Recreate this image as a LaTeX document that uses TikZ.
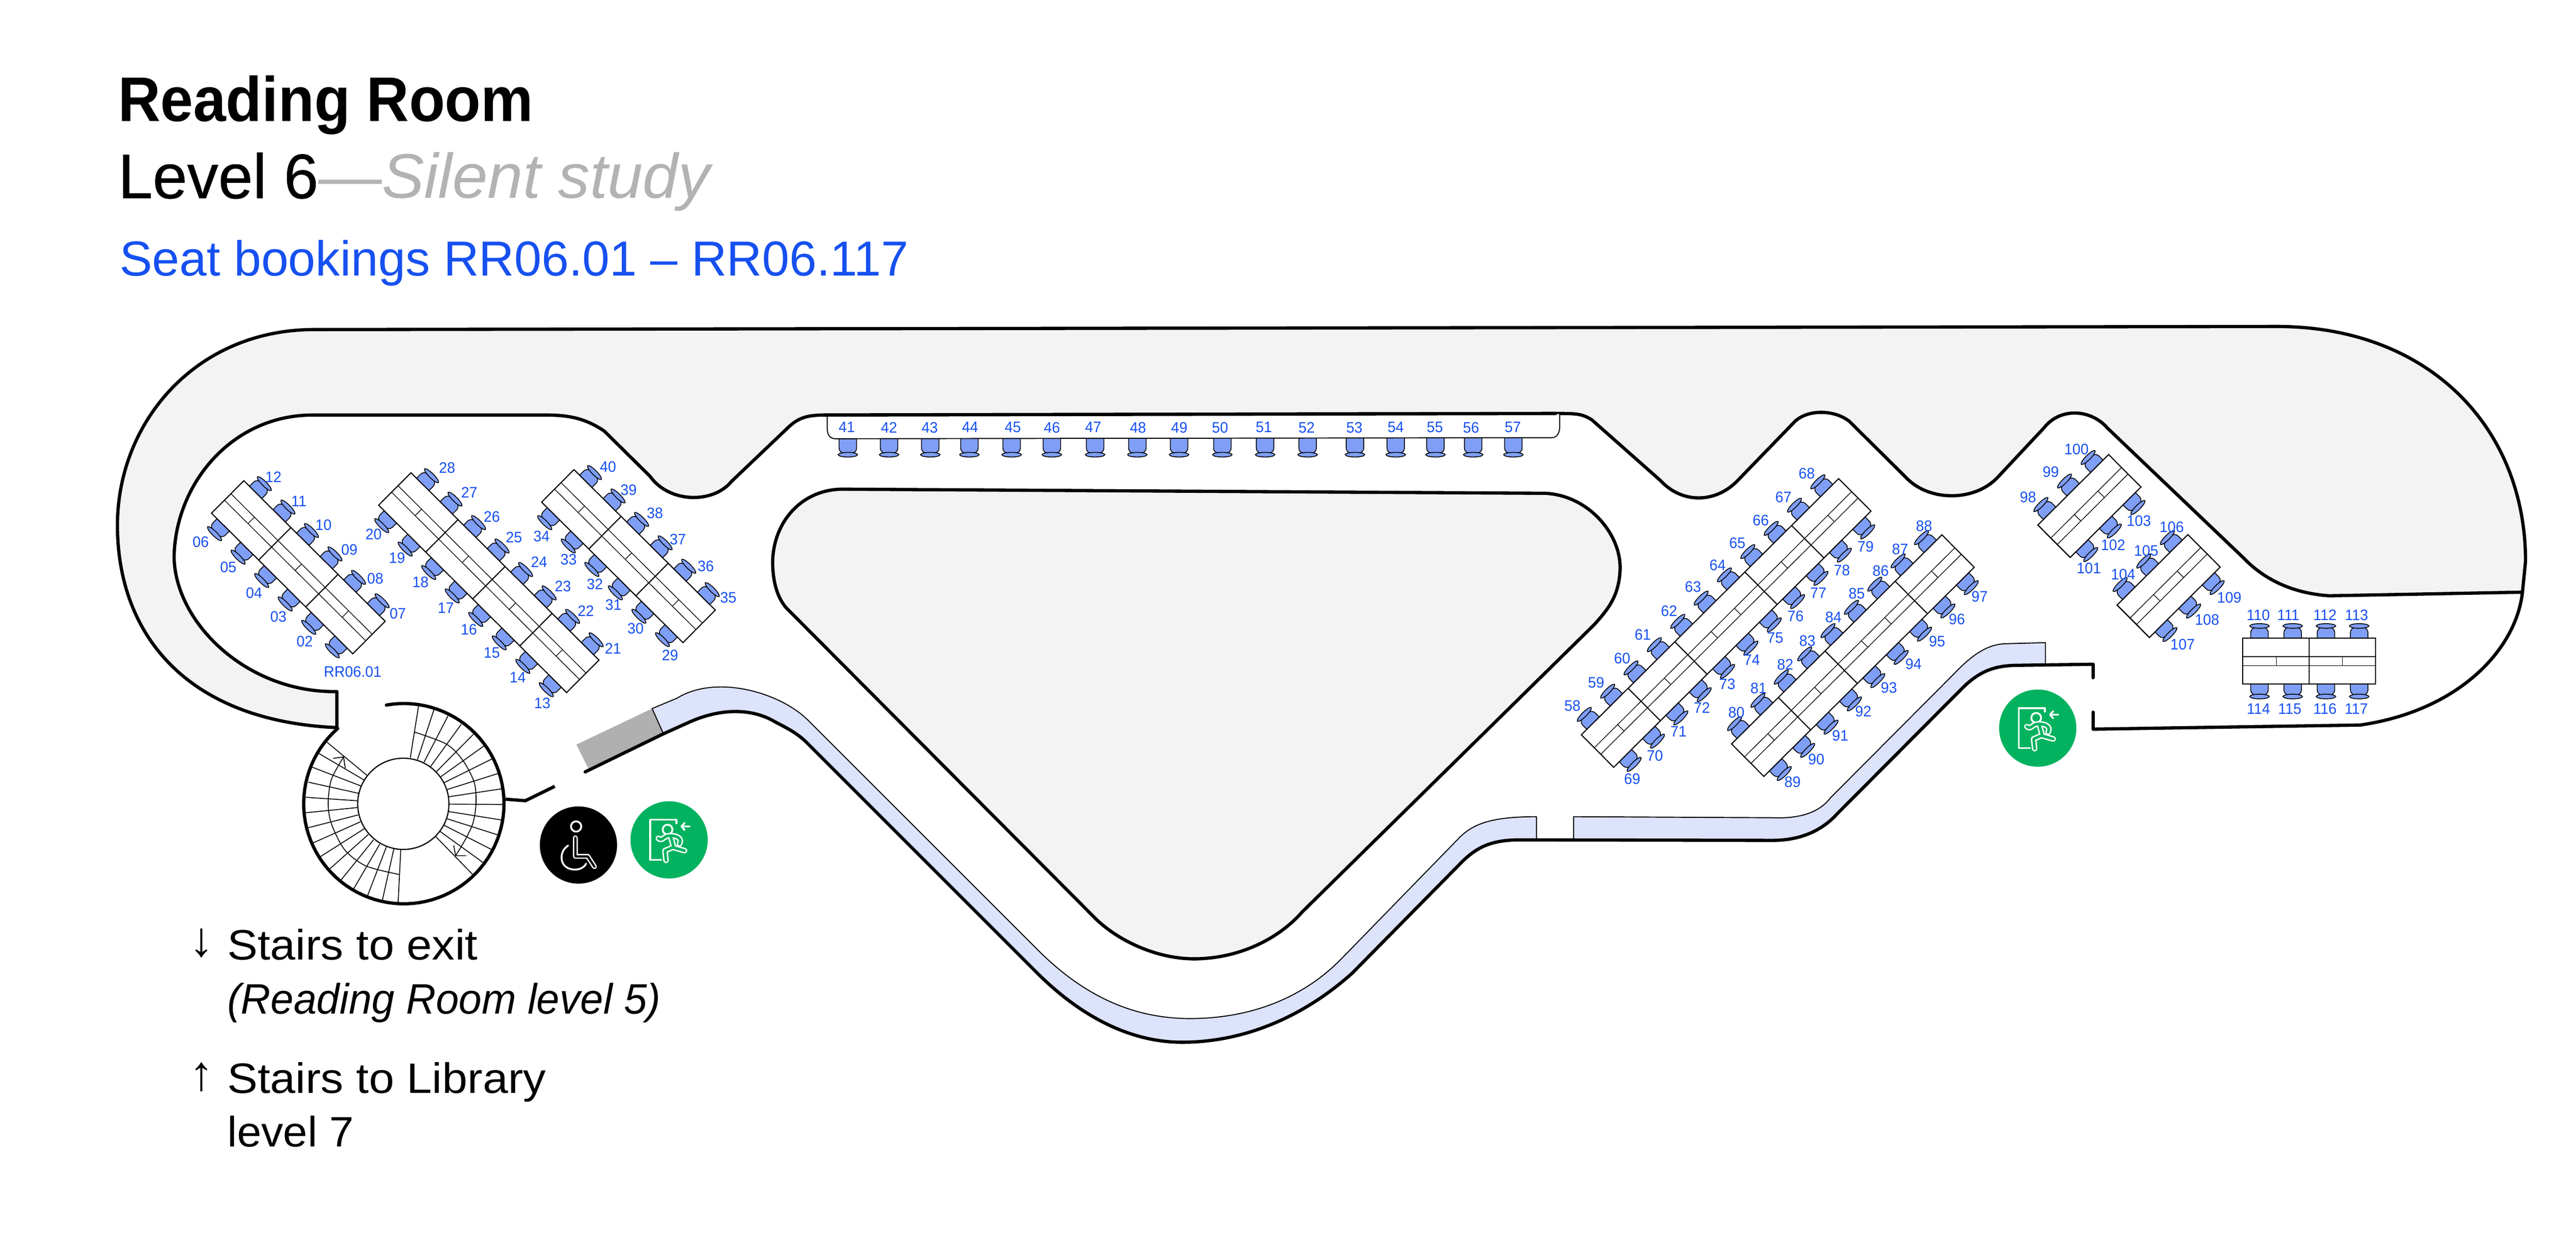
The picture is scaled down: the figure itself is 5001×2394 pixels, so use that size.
\documentclass[tikz,border=0pt]{standalone}
\usepackage{fontspec}
\setmainfont{Liberation Sans}
\newfontfamily\fTitle[FakeStretch=0.933]{Liberation Sans}
\newfontfamily\fLevel[FakeStretch=0.985,FakeBold=0.5]{Liberation Sans}
\newfontfamily\fSilent[FakeStretch=1.006]{Liberation Sans}
\newfontfamily\fSeat[FakeStretch=0.995]{Liberation Sans}
\newfontfamily\fNote[FakeStretch=1.07]{Liberation Sans}
\newfontfamily\fNoteI[FakeStretch=0.97]{Liberation Sans}
\newfontfamily\fNoteL[FakeStretch=1.03]{Liberation Sans}
\newfontfamily\fNum[FakeStretch=0.96]{Liberation Sans}
\definecolor{roomgray}{HTML}{F3F3F3}
\definecolor{ramp}{HTML}{B0B0B0}
\definecolor{walk}{HTML}{DCE3FB}
\definecolor{chairblue}{HTML}{7F9EF5}
\definecolor{txtblue}{HTML}{1650F0}
\definecolor{silent}{HTML}{B3B3B3}
\definecolor{exitgreen}{HTML}{02B25F}
\tikzset{
  wall/.style={line width=3.6pt,line join=round,line cap=round},
  thinwall/.style={line width=1.1pt,line join=round},
  tread/.style={line width=.95pt},
  desk/.style={line width=1.2pt,line join=miter},
  deskthin/.style={line width=.75pt},
  chair/.style={draw=black,fill=chairblue,line width=.9pt},
  num/.style={font=\fNum\fontsize{16.8}{16.8}\selectfont,text=txtblue,inner sep=0pt,anchor=center},
  head/.style={anchor=base west,inner sep=0pt},
  note/.style={anchor=base west,inner sep=0pt,font=\fNote\fontsize{47}{47}\selectfont},
  iconline/.style={draw=white,line width=2pt,line cap=round,line join=round},
}
\newcommand\seatat[3]{%
  \pgfmathsetmacro\yS{#2-#3*8}%
  \pgfmathsetmacro\yA{#2+#3*21}%
  \pgfmathsetmacro\yC{#2+#3*24}%
  \pgfmathsetmacro\yU{#2+#3*30}%
  \pgfmathsetmacro\yD{#2+#3*18}%
  \draw[chair,rounded corners=5.5pt] (#1-17,\yS) -- (#1-17,\yA) -- (#1+17,\yA) -- (#1+17,\yS);
  \draw[chair] (#1-19,\yC) .. controls (#1-17,\yU) and (#1+17,\yU) .. (#1+19,\yC) .. controls (#1+17,\yD) and (#1-17,\yD) .. (#1-19,\yC) -- cycle;
}
% ox, oy, ax, ay, L, dividers, ticks, seats
\newcommand\deskgroup[8]{%
  \begin{scope}[shift={(#1,#2)},x={({(#3)*0.02cm},{-1*(#4)*0.02cm})},y={({-1*(#4)*0.02cm},{-1*(#3)*0.02cm})}]
    \foreach \s in {#8}{\seatat{\s}{0}{-1}\seatat{\s}{89}{1}}
    \draw[desk,fill=white] (0,0) -- (#5,0) -- (#5,89) -- (0,89) -- cycle;
    \draw[deskthin] (0,35.6) -- (#5,35.6) (0,53.4) -- (#5,53.4);
    \foreach \t in {#7}{\draw[deskthin] (\t,35.6) -- (\t,53.4);}
    \foreach \d in {#6}{\draw[desk] (\d,0) -- (\d,89);}
  \end{scope}
}
\newcommand\exiticon[3]{%
  \node[circle,fill=exitgreen,minimum size=3cm,inner sep=0pt] (#3) at (#1,#2) {};
  \begin{scope}[shift={(#1,#2)}]
    \draw[iconline] (14,-32) -- (14,-39) -- (-37,-39) -- (-37,39) -- (-15,39);
    \draw[iconline] (40,-26) -- (24,-26) (30,-33) -- (24,-26) -- (30,-19);
    \draw[iconline] (-3,-20) circle[radius=.19cm];
    \draw[draw=white,double=exitgreen,double distance=3pt,line width=1.6pt,line cap=round,line join=round]
      (-21,-3) .. controls (-13,4) and (-11,-8) .. (0,-8) .. controls (12,-9) and (27,-4) .. (20,8)
      (3,-7) -- (9,15) -- (30,21)
      (6,15) -- (-8,21) -- (-6,40);
  \end{scope}
}
\begin{document}
\begin{tikzpicture}[x=0.02cm,y=-0.02cm]
\useasboundingbox (0,0) rectangle (5001,2394);
\fill[white] (0,0) rectangle (5001,2394);

% headings
\node[head,font=\fTitle\bfseries\fontsize{69.7}{70}\selectfont] (title) at (229,236) {Reading Room};
\node[head,font=\fontsize{69.7}{70}\selectfont] (level) at (229,385) {{\fLevel Level 6}{\fSilent\color{silent}—\itshape Silent study}};
\node[head,font=\fSeat\fontsize{54.4}{55}\selectfont,text=txtblue] (seats) at (232,536) {Seat bookings RR06.01 – RR06.117};

% outer grey room band
\draw[wall,fill=roomgray]
  (654,1413) .. controls (360,1400) and (228,1230) .. (228,1020)
  .. controls (228,820) and (380,640) .. (610,640)
  -- (4420,634) .. controls (4715,634) and (4903,830) .. (4903,1090)
  -- (4897,1150) -- (4522,1157)
  .. controls (4450,1152) and (4395,1125) .. (4355,1083)
  -- (4091,831) .. controls (4060,795) and (4000,790) .. (3968,831)
  -- (3880,925) .. controls (3835,975) and (3745,975) .. (3700,927)
  -- (3590,818) .. controls (3560,795) and (3510,795) .. (3485,818)
  -- (3373,933.6) .. controls (3330,978) and (3265,978) .. (3224,933.6)
  -- (3090,815) .. controls (3070,803) and (3060,803) .. (3020,803)
  -- (1599,806) .. controls (1560,806) and (1545,815) .. (1525,835)
  -- (1420,935) .. controls (1385,978) and (1300,978) .. (1262,925)
  -- (1173,837) .. controls (1140,815) and (1110,806) .. (1061,806)
  -- (607,806) .. controls (450,806) and (340,940) .. (338,1082)
  .. controls (340,1210) and (480,1346) .. (654,1343) -- cycle;

% right lower wall
\draw[wall] (4897,1150) .. controls (4885,1260) and (4775,1380) .. (4582,1408)
  -- (4063.5,1416) -- (4063.5,1383);

% central block
\draw[wall,fill=roomgray]
  (1640,950) -- (3000,958)
  .. controls (3085,962) and (3150,1040) .. (3145,1110)
  .. controls (3142,1160) and (3120,1185) .. (3095,1213)
  -- (2528,1771) .. controls (2476,1830) and (2396,1862) .. (2318,1862)
  .. controls (2244,1862) and (2165,1825) .. (2120,1777)
  -- (1526,1180) .. controls (1505,1155) and (1500,1120) .. (1500,1090)
  .. controls (1502,1010) and (1560,948) .. (1640,950) -- cycle;

% ramp and walkway
\fill[ramp] (1119,1446) -- (1266,1376) -- (1288,1425) -- (1142,1492) -- cycle;
\fill[walk] (1266,1376) -- (1314,1356) .. controls (1340,1340) and (1370,1334) .. (1400,1334)
  .. controls (1460,1334) and (1530,1360) .. (1569,1399)
  -- (2015,1845) .. controls (2100,1930) and (2195,1978) .. (2310,1978)
  .. controls (2425,1978) and (2530,1940) .. (2608,1858)
  -- (2831,1629) .. controls (2860,1598) and (2900,1586) .. (2983,1586)
  -- (2983,1631) -- (2952,1631) .. controls (2900,1631) and (2870,1642) .. (2838,1674)
  -- (2625,1890) .. controls (2530,1975) and (2415,2024) .. (2295,2024)
  .. controls (2195,2024) and (2100,1975) .. (2015,1891)
  -- (1569,1445) .. controls (1550,1425) and (1530,1415) .. (1505,1402)
  .. controls (1460,1375) and (1400,1375) .. (1339,1402) -- (1288,1425) -- cycle;
\draw[thinwall] (1288,1425) -- (1266,1376) -- (1314,1356) .. controls (1340,1340) and (1370,1334) .. (1400,1334)
  .. controls (1460,1334) and (1530,1360) .. (1569,1399)
  -- (2015,1845) .. controls (2100,1930) and (2195,1978) .. (2310,1978)
  .. controls (2425,1978) and (2530,1940) .. (2608,1858)
  -- (2831,1629) .. controls (2860,1598) and (2900,1586) .. (2983,1586)
  -- (2983,1631);
\fill[walk] (3055,1631) -- (3055,1586) -- (3441,1588) .. controls (3490,1590) and (3530,1580) .. (3553,1550)
  -- (3792,1310) .. controls (3830,1270) and (3860,1250) .. (3897,1250) -- (3971,1248) -- (3971,1291)
  -- (3918,1292) .. controls (3870,1292) and (3840,1305) .. (3806,1340) -- (3567,1580)
  .. controls (3540,1610) and (3500,1632) .. (3441,1632) -- cycle;
\draw[thinwall] (3055,1631) -- (3055,1586) -- (3441,1588) .. controls (3490,1590) and (3530,1580) .. (3553,1550)
  -- (3792,1310) .. controls (3830,1270) and (3860,1250) .. (3897,1250) -- (3971,1248) -- (3971,1291);
\draw[wall] (1136,1499) -- (1288,1425) -- (1339,1402) .. controls (1400,1375) and (1460,1375) .. (1505,1402)
  .. controls (1530,1415) and (1550,1425) .. (1569,1445)
  -- (2015,1891) .. controls (2100,1975) and (2195,2024) .. (2295,2024)
  .. controls (2415,2024) and (2530,1975) .. (2625,1890)
  -- (2838,1674) .. controls (2870,1642) and (2900,1631) .. (2952,1631)
  -- (3441,1632) .. controls (3500,1632) and (3540,1610) .. (3567,1580)
  -- (3806,1340) .. controls (3840,1305) and (3870,1292) .. (3918,1292)
  -- (4063.5,1290) -- (4063.5,1316);

% stairs
\draw[wall] plot[domain=100:-228.7,samples=90] ({784+194.5*cos(\x)},{1560.7-194.5*sin(\x)});
\draw[wall,line cap=butt] (981.5,1552) -- (1020,1555) -- (1077,1527);
\draw[line width=1.3pt] (783,1561) circle[radius=1.772cm];
\begin{scope}[shift={(500,1300)},x=0.012755cm,y=-0.006667cm]
  \foreach \ax/\ay/\bx/\by in {490/215/465/515,537/235/487/525,580/270/507/540,620/320/527/565,657/378/545/595,690/445/558/625,713/522/568/660,731/607/577/700,745/695/582/742,750/787/584/785,745/878/582/828,733/965/577/870,713/1050/567/907,688/1127/555/943,655/1195/543/975,428/1358/436/1050,380/1345/415/1045,335/1318/392/1035,293/1277/372/1018,255/1225/353/993,220/1162/337/962,192/1090/325/928,170/1010/313/888,155/922/306/848,147/835/303/805,147/745/303/765,155/657/308/722,167/570/316/680,187/490/325/645,212/425/333/617}
    {\draw[tread] (\ax,\ay) -- (\bx,\by);}
  \draw[tread] plot[smooth] coordinates {(478,365) (575,435) (625,530) (660,660) (665,785) (655,900) (630,1000) (603,1085)};
  \draw[tread] plot[smooth] coordinates {(432,1195) (330,1145) (265,1050) (225,900) (215,780) (225,640) (262,510)};
  \draw[tread] (597,1025) -- (603,1085) -- (635,1085);
  \draw[tread] (230,518) -- (262,510) -- (267,575);
\end{scope}

% icons
\node[circle,fill=black,minimum size=3cm,inner sep=0pt] (wheelchair) at (1123,1641) {};
\begin{scope}[shift={(1123,1641)}]
  \draw[iconline] (-4.5,-36) circle[radius=.2cm];
  \draw[draw=white,double=black,double distance=2.4pt,line width=1.5pt,line cap=round,line join=round]
    (-6,-14) -- (-6,22) -- (18,22) -- (31,42);
  \draw[iconline] (-20,1) .. controls (-38,12) and (-38,42) .. (-14,47) .. controls (0,50) and (11,44) .. (15,36);
\end{scope}
\exiticon{1299}{1631}{exitA}
\exiticon{3956}{1414}{exitB}

% single row desk
\foreach \s in {1646,1726,1806,1882,1964,2042,2126,2208,2289,2373,2456,2538.6,2630.5,2709.6,2786.7,2860,2938}{\seatat{\s}{859}{1}}
\draw[thinwall,fill=white] (1606,806) -- (1606,833) .. controls (1606,845) and (1612,852) .. (1622,852) -- (3012,850) .. controls (3022,850) and (3028,842) .. (3028,828) -- (3028,804);
\draw[wall] (1599,806) -- (3020,803);

% desk groups
\deskgroup{473.4}{933.5}{.7088}{.7054}{387}{129,258}{64.5,193.5,322.5}{32.25,96.75,161.25,225.75,290.25,354.75}
\deskgroup{797.9}{918}{.708}{.706}{515.5}{129,258,387}{64.5,193.5,322.5,451}{32.25,96.75,161.25,225.75,290.25,354.75,419.25,483.75}
\deskgroup{1114.3}{912}{.709}{.705}{387}{129,258}{64.5,193.5,322.5}{32.25,96.75,161.25,225.75,290.25,354.75}
\deskgroup{3070}{1427}{.7085}{-.7057}{705}{128,256,448,576}{64,192,320,384,512,640}{32,96,160,224,288,352,416,480,544,608,672}
\deskgroup{3361.6}{1444.7}{.709}{-.705}{576}{128,256,448}{64,192,320,384,512}{32,96,160,224,288,352,416,480,544}
\deskgroup{3956.2}{1019.6}{.7085}{-.7055}{194}{0}{64.7,129.3}{32.3,97,161.7}
\deskgroup{4110}{1175}{.7085}{-.7055}{194}{0}{64.7,129.3}{32.3,97,161.7}
\deskgroup{4354}{1239.6}{1}{0}{258.3}{129}{65,193.5}{32.5,97,161.5,226}

% seat numbers
\begin{scope}[shift={(200,800)},x=0.015944cm,y=-0.008291cm]
  \foreach \n/\x/\y in {12/415/305,11/477/418,10/537/530,09/600/647,08/663/780,07/718/945,06/238/610,05/305/728,04/368/848,03/427/960,02/491/1075,RR06.01/608/1218,28/838/263,27/892/377,26/947/492,25/1001/588,24/1062/703,23/1120/817,22/1176/932,21/1242/1110,20/659/574,19/716/685,18/773/797,17/835/920,16/891/1020,15/947/1130,14/1010/1246,13/1070/1365,40/1230/256,39/1280/365,38/1344/474,37/1400/598,36/1468/723,35/1523/870,34/1068/582,33/1134/692,32/1198/808,31/1243/905,30/1297/1015,29/1381/1140}
    {\node[num] (lab\n) at (\x,\y) {\n};}
\end{scope}
\begin{scope}[shift={(1550,780)},x=0.01977cm,y=-0.006667cm]
  \foreach \n/\x in {41/95,42/178,43/258,44/337,45/421,46/498,47/579,48/667,49/748,50/828,51/914,52/998,53/1092,54/1173,55/1250,56/1321,57/1403}
    {\node[num] (lab\n) at (\x,150) {\n};}
\end{scope}
\begin{scope}[shift={(3000,880)},x=0.01148cm,y=-0.008929cm]
  \foreach \n/\x/\y in {68/885/88,67/806/192,66/729/292,65/650/391,64/583/487,63/500/581,62/419/687,61/330/791,60/260/893,59/172/999,58/92/1100,79/1084/406,78/1004/510,77/924/609,76/847/709,75/778/804,74/699/900,73/616/1005,72/530/1107,71/451/1212,70/371/1316,69/294/1417,88/1282/318,87/1201/418,86/1135/513,85/1054/610,84/975/714,83/887/817,82/812/920,81/722/1024,80/647/1128,97/1470/624,96/1393/724,95/1326/819,94/1246/918,93/1163/1020,92/1076/1124,91/998/1229,90/917/1332,89/837/1432}
    {\node[num] (lab\n) at (\x,\y) {\n};}
\end{scope}
\begin{scope}[shift={(3850,820)},x=0.01148cm,y=-0.008929cm]
  \foreach \n/\x/\y in {100/316/118,99/229/217,98/152/326,103/527/430,102/440/535,101/358/636,106/638/457,105/552/560,104/474/663,109/833/764,108/758/860,107/675/968,110/931/840,111/1033/840,112/1157/840,113/1264/840,114/932/1248,115/1038/1248,116/1157/1248,117/1263/1248}
    {\node[num] (lab\n) at (\x,\y) {\n};}
\end{scope}

% stair notes
\node[inner sep=0pt,font=\fontsize{54}{54}\selectfont] (arrowdown) at (391,1832) {↓};
\node[note] (exitnote) at (441,1864) {Stairs to exit};
\node[anchor=base west,inner sep=0pt,font=\fNoteI\itshape\fontsize{47}{47}\selectfont] (exitnote2) at (441,1969) {(Reading Room level 5)};
\node[inner sep=0pt,font=\fontsize{54}{54}\selectfont] (arrowup) at (391,2092) {↑};
\node[note] (libnote) at (441,2122.5) {Stairs to Library};
\node[anchor=base west,inner sep=0pt,font=\fNoteL\fontsize{47}{47}\selectfont] (libnote2) at (441,2227) {level 7};
\end{tikzpicture}
\end{document}
